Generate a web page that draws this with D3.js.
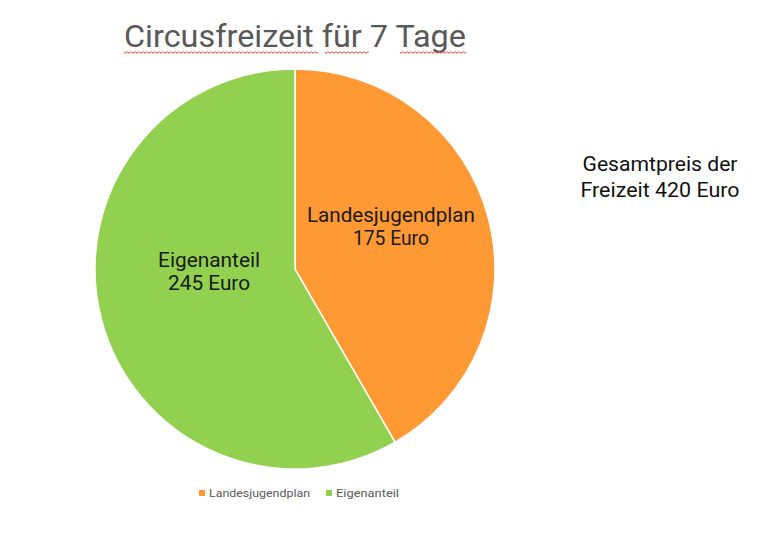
<!DOCTYPE html>
<html><head><meta charset="utf-8">
<script src="https://cdn.jsdelivr.net/npm/d3@7"></script>
<style>body{margin:0;background:#fff}svg{display:block}text{font-family:Roboto,"DejaVu Sans",sans-serif}</style>
</head><body>
<svg id="c" width="768" height="543"></svg>
<script>
const categories = ["Landesjugendplan", "Eigenanteil"];
const values = [175, 245];
const labelLines = [["Landesjugendplan", "175 Euro"], ["Eigenanteil", "245 Euro"]];
const colors = ["#FF9933", "#92D050"];
const title = "Circusfreizeit für 7 Tage";
const note = ["Gesamtpreis der", "Freizeit 420 Euro"];

const svg = d3.select("#c");
const cx = 295, cy = 269, r = 200;

// title
svg.append("text").attr("x", 124).attr("y", 47).attr("fill", "#595959")
  .attr("font-size", 31).attr("textLength", 342).attr("lengthAdjust", "spacingAndGlyphs")
  .text(title);
// spell-check wavy underlines
function wavy(x0, x1, y) {
  let d = `M${x0},${y}`;
  for (let x = x0; x < x1; x += 2) d += `L${x + 1},${y + ((x - x0) / 2 % 2 === 0 ? 1.5 : -0)}L${x + 2},${y}`;
  return d;
}
[[124, 318], [325, 368], [400, 466]].forEach(([a, b]) => {
  svg.append("path").attr("d", wavy(a, b, 52)).attr("fill", "none").attr("stroke", "#E8564A").attr("stroke-width", 0.9);
});

const pie = d3.pie().sort(null).value(d => d)(values);
const arc = d3.arc().innerRadius(0).outerRadius(r);
const g = svg.append("g").attr("transform", `translate(${cx},${cy})`);
g.selectAll("path.slice").data(pie).join("path").attr("class", "slice")
  .attr("d", arc).attr("fill", (d, i) => colors[i]).attr("stroke", "#fff").attr("stroke-width", 1.5);

// labels
const labelR = [0.6 * r, 0.45 * r];
const labelOffset = [[-20, -4.5], [1, -14]];
const widths = [[168, 76], [102, 82]];
pie.forEach((d, i) => {
  const c = d3.arc().innerRadius(labelR[i]).outerRadius(labelR[i]).centroid(d);
  const t = g.append("text").attr("text-anchor", "middle").attr("fill", "#1a1a1a").attr("font-size", 20);
  labelLines[i].forEach((line, j) => {
    t.append("tspan").attr("x", c[0] + labelOffset[i][0]).attr("y", c[1] + labelOffset[i][1] + (j === 0 ? -11.5 : 11.5))
      .attr("textLength", widths[i][j]).attr("lengthAdjust", "spacingAndGlyphs").text(line);
  });
});

// note
const nw = [155, 159];
note.forEach((line, j) => {
  svg.append("text").attr("x", 660).attr("y", 171 + j * 26).attr("text-anchor", "middle")
    .attr("fill", "#111").attr("font-size", 20).attr("textLength", nw[j]).attr("lengthAdjust", "spacingAndGlyphs").text(line);
});

// legend
const legX = [199, 326], legW = [101, 63];
categories.forEach((c, i) => {
  svg.append("rect").attr("x", legX[i]).attr("y", 490).attr("width", 6).attr("height", 6).attr("fill", colors[i]);
  svg.append("text").attr("x", legX[i] + 10).attr("y", 497).attr("fill", "#595959").attr("font-size", 11.5)
    .attr("textLength", legW[i]).attr("lengthAdjust", "spacingAndGlyphs").text(c);
});
</script>
</body></html>
